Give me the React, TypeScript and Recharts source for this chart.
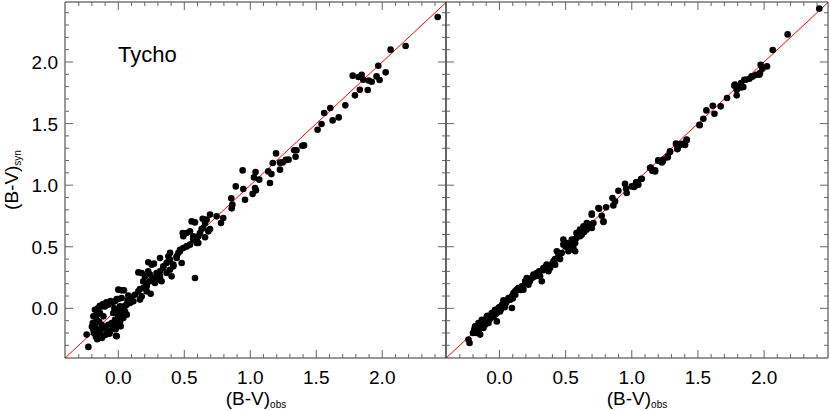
import React from 'react';
import { ScatterChart, Scatter, XAxis, YAxis, ReferenceLine } from 'recharts';

const tychoPairs: [number, number][] = [
  [-0.227, -0.313], [-0.24, -0.213], [-0.189, -0.065], [-0.177, -0.011], [-0.152, 0.003], [-0.126, 0.016],
  [-0.101, 0.016], [-0.076, 0.03], [-0.05, 0.044], [-0.025, 0.057], [0, 0.076], [0.025, 0.084],
  [-0.194, -0.119], [-0.177, -0.146], [-0.164, -0.173], [-0.152, -0.195], [-0.139, -0.213], [-0.113, -0.222],
  [-0.088, -0.206], [-0.063, -0.187], [-0.038, -0.16], [-0.012, -0.133], [0.013, -0.106], [0.038, -0.079],
  [-0.018, -0.222], [-0.068, -0.206], [0.013, -0.141], [0.025, 0.146], [0, 0.152], [-0.012, 0.076],
  [0.076, 0.071], [0.101, 0.092], [0.126, 0.111], [0.152, 0.138], [0.164, 0.157], [0.189, 0.165],
  [0.215, 0.192], [0.235, 0.219], [0.245, 0.119], [0.215, 0.138], [0.177, 0.097], [0.152, 0.292],
  [0.177, 0.287], [0.227, 0.374], [0.253, 0.355], [0.202, 0.26], [0.24, 0.274], [0.265, 0.246],
  [0.29, 0.287], [0.316, 0.301], [0.328, 0.22], [0.341, 0.328], [0.366, 0.368], [0.379, 0.422],
  [0.391, 0.395], [0.417, 0.355], [0.442, 0.422], [0.455, 0.449], [0.467, 0.463], [0.492, 0.49],
  [0.518, 0.504], [0.543, 0.517], [0.568, 0.558], [0.581, 0.246], [0.556, 0.706], [0.594, 0.531],
  [0.606, 0.585], [0.619, 0.612], [0.644, 0.653], [0.657, 0.693], [0.669, 0.72], [0.492, 0.585],
  [0.518, 0.612], [0.543, 0.626], [0.366, 0.287], [0.391, 0.314], [0.404, 0.26], [0.316, 0.26],
  [0.29, 0.233], [0.278, 0.206], [-0.139, -0.038], [-0.113, -0.065], [-0.038, -0.038], [-0.012, -0.011],
  [0.013, 0.016], [0.038, 0.003], [0.063, 0.03], [-0.126, -0.133], [-0.101, -0.16], [-0.076, -0.133],
  [-0.05, -0.119], [-0.025, -0.092], [0, -0.065], [0.025, -0.038], [0.051, -0.025], [-0.164, -0.092],
  [-0.189, -0.173], [0.088, 0.044], [0.114, 0.057],
  [-0.2, -0.15], [-0.185, -0.2], [-0.17, -0.23], [-0.16, -0.25], [-0.125, -0.24], [-0.13, -0.17],
  [-0.145, -0.11], [-0.16, -0.05], [-0.14, 0.02], [-0.115, 0.035], [-0.09, 0.05], [-0.06, 0.06],
  [-0.03, 0.0], [0.0, -0.02], [0.02, -0.06], [0.05, 0.02], [0.07, 0.06], [-0.02, -0.17],
  [-0.093, -0.213], [-0.063, -0.186], [-0.012, -0.227], [0.018, -0.146], [0.064, -0.051],
  [0.043, 0.146], [0.076, 0.103], [0.164, 0.071], [0.215, 0.179], [0.189, 0.219], [0.227, 0.3],
  [0.27, 0.363], [0.303, 0.26], [0.316, 0.409], [0.341, 0.341], [0.379, 0.381], [0.392, 0.45],
  [0.417, 0.341], [0.442, 0.409], [0.467, 0.476], [0.488, 0.612], [0.518, 0.503], [0.48, 0.368],
  [0.568, 0.585], [0.581, 0.698], [0.594, 0.544],
  [0.639, 0.728], [0.695, 0.761], [0.745, 0.747], [0.795, 0.734], [0.778, 0.693], [0.695, 0.644],
  [0.682, 0.625], [0.631, 0.644], [0.657, 0.577], [0.594, 0.571], [0.606, 0.531], [0.856, 0.893],
  [0.864, 0.842], [0.859, 0.812], [0.89, 0.99], [0.96, 0.882], [0.942, 1.12], [0.947, 0.969],
  [1.245, 1.185],
  [2.42, 2.365], [2.177, 2.13], [2.063, 2.1], [2.026, 1.916], [1.97, 1.97], [1.98, 1.854],
  [1.957, 1.883], [1.92, 1.84], [1.897, 1.85], [1.89, 1.773], [1.856, 1.856], [1.844, 1.897],
  [1.82, 1.878], [1.776, 1.889], [1.83, 1.775], [1.793, 1.729], [1.72, 1.648], [1.606, 1.627],
  [1.56, 1.586], [1.67, 1.55], [1.624, 1.526], [1.54, 1.497], [1.51, 1.45], [1.407, 1.323],
  [1.394, 1.32], [1.35, 1.283], [1.333, 1.283], [1.343, 1.231], [1.29, 1.207], [1.27, 1.205],
  [1.195, 1.258], [1.225, 1.183], [1.225, 1.126], [1.17, 1.18], [1.136, 1.112], [1.16, 1.09],
  [1.149, 1.018], [1.04, 1.107], [1.028, 1.063], [1.068, 1.045], [1.036, 0.977], [1.043, 0.958],
  [1.018, 0.929],
];

// (B-V)obs, (B-V)syn pairs
const rightPairs: [number, number][] = [
  [-0.226, -0.281], [-0.234, -0.254], [-0.184, -0.146], [-0.171, -0.173], [-0.159, -0.119], [-0.146, -0.213],
  [-0.133, -0.092], [-0.121, -0.16], [-0.108, -0.133], [-0.095, -0.065], [-0.083, -0.119], [-0.07, -0.079],
  [-0.058, -0.038], [-0.045, -0.065], [-0.033, -0.011], [-0.02, -0.038], [-0.007, 0.003], [0.005, -0.025],
  [0.018, 0.016], [0.03, 0.065], [0.043, 0.03], [0.068, 0.084], [0.093, 0.097], [0.118, 0.138],
  [0.143, 0.165], [0.181, 0.152], [0.194, 0.219], [0.219, 0.192], [0.244, 0.246], [0.257, 0.274],
  [0.282, 0.287], [0.32, 0.22], [0.332, 0.328], [0.357, 0.355], [0.383, 0.328], [0.408, 0.382],
  [0.446, 0.436], [0.458, 0.4], [0.483, 0.517], [0.508, 0.531], [0.534, 0.476], [0.559, 0.544],
  [0.572, 0.463], [0.584, 0.612], [0.609, 0.639], [0.635, 0.666], [0.66, 0.693], [-0.159, -0.187],
  [-0.02, -0.106], [0.056, 0.057], [0.106, 0.125], [0.169, 0.179], [0.206, 0.246], [0.307, 0.26],
  [0.37, 0.301], [0.421, 0.355], [0.471, 0.449], [0.521, 0.463],
  [0.036, 0.044], [0.094, 0.003], [0.698, 0.76], [0.786, 0.701], [0.748, 0.815], [0.559, 0.49],
  [0.483, 0.558], [0.434, 0.463],
  [-0.2, -0.2], [-0.19, -0.17], [-0.175, -0.2], [-0.15, -0.16], [-0.14, -0.12], [-0.12, -0.11],
  [-0.1, -0.1], [-0.09, -0.06], [-0.075, -0.09], [-0.06, -0.07], [-0.04, -0.03], [-0.03, -0.05],
  [-0.01, -0.02], [0.0, 0.01], [0.01, -0.01], [0.02, 0.03], [0.04, 0.01], [0.05, 0.05],
  [0.08, 0.07], [0.1, 0.08], [0.12, 0.11], [0.13, 0.15], [0.16, 0.15], [0.2, 0.2],
  [0.23, 0.22], [0.25, 0.25], [0.27, 0.26], [0.3, 0.3], [0.33, 0.31], [0.35, 0.34],
  [0.4, 0.36], [0.42, 0.4], [0.45, 0.42], [0.5, 0.5], [0.52, 0.49], [0.55, 0.52],
  [0.58, 0.57], [0.64, 0.62], [0.66, 0.64],
  [0.547, 0.558], [0.572, 0.531], [0.584, 0.612], [0.609, 0.585], [0.635, 0.639], [0.66, 0.666],
  [0.685, 0.68], [0.71, 0.693], [0.698, 0.653], [0.622, 0.598], [0.698, 0.769], [0.753, 0.809],
  [0.773, 0.752], [0.786, 0.707], [0.806, 0.82], [0.861, 0.836], [0.854, 0.895], [0.874, 0.868],
  [0.899, 0.955], [0.949, 1.012], [0.962, 0.937], [0.957, 0.971], [1.025, 0.996], [1.038, 1.023],
  [1.05, 1.004], [1.07, 1.05], [1.138, 1.139], [1.158, 1.118], [1.176, 1.112], [1.201, 1.199],
  [1.227, 1.185], [1.239, 1.207], [1.272, 1.226], [1.289, 1.275], [1.345, 1.294], [1.352, 1.329],
  [1.402, 1.329], [1.415, 1.37], [1.511, 1.491],
  [2.417, 2.433], [2.178, 2.224], [2.065, 2.097], [2.022, 1.964], [1.974, 1.978], [1.987, 1.946],
  [1.964, 1.897], [1.939, 1.897], [1.914, 1.883], [1.889, 1.864], [1.863, 1.856], [1.851, 1.856],
  [1.843, 1.797], [1.818, 1.797], [1.793, 1.775], [1.775, 1.808], [1.793, 1.729], [1.826, 1.83],
  [1.72, 1.708], [1.672, 1.64], [1.612, 1.645], [1.625, 1.58], [1.564, 1.607], [1.541, 1.539],
  [1.513, 1.486], [1.415, 1.367], [1.402, 1.326], [1.359, 1.323], [1.344, 1.293], [1.334, 1.337],
  [1.289, 1.269], [1.272, 1.234], [1.234, 1.193], [1.201, 1.201], [1.176, 1.12], [1.143, 1.144],
  [1.156, 1.117], [1.076, 1.052], [1.033, 1.023], [1.018, 0.985], [1.043, 1.004], [1.0, 0.99],
  [1.78, 1.816], [1.806, 1.789], [1.831, 1.794], [1.969, 1.91], [1.906, 1.883], [1.377, 1.336],
];

const axisTicks = [
  -0.3, -0.2, -0.1, 0, 0.1, 0.2, 0.3, 0.4, 0.5, 0.6, 0.7, 0.8, 0.9, 1.0,
  1.1, 1.2, 1.3, 1.4, 1.5, 1.6, 1.7, 1.8, 1.9, 2.0, 2.1, 2.2, 2.3, 2.4,
];
const labelledTicks = [0, 0.5, 1.0, 1.5, 2.0];

const xDomain: [number, number] = [-0.404, 2.483];
const yDomain: [number, number] = [-0.403, 2.487];

const FONT = '"Liberation Sans", Arial, Helvetica, sans-serif';
const AXIS = '#333';
const TICK = '#666';

const isMajor = (v: number) => labelledTicks.some((t) => Math.abs(t - v) < 1e-6);

type Side = 'bottom' | 'top' | 'left' | 'right';

// ticks drawn inward from the frame; labels only on bottom and left
const AxisTick = (props: any) => {
  const { x, y, payload, side, showLabel } = props as { x: number; y: number; payload: any; side: Side; showLabel: boolean };
  const v = payload.value as number;
  const major = isMajor(v);
  const len = major ? 8 : 4;
  let line: React.ReactNode = null;
  let label: React.ReactNode = null;
  if (side === 'bottom') {
    line = <line x1={x} x2={x} y1={y} y2={y - len} stroke={TICK} />;
    if (showLabel && major)
      label = <text x={x} y={y + 26} textAnchor="middle" fontSize={19} fontFamily={FONT} fill="#000">{v.toFixed(1)}</text>;
  } else if (side === 'top') {
    line = <line x1={x} x2={x} y1={y} y2={y + len} stroke={TICK} />;
  } else if (side === 'left') {
    line = <line x1={x} x2={x + len} y1={y} y2={y} stroke={TICK} />;
    if (showLabel && major)
      label = <text x={x - 7} y={y + 7} textAnchor="end" fontSize={19} fontFamily={FONT} fill="#000">{v.toFixed(1)}</text>;
  } else {
    line = <line x1={x} x2={x - len} y1={y} y2={y} stroke={TICK} />;
  }
  return (
    <g>
      {line}
      {label}
    </g>
  );
};

const dot = (p: any) => <circle cx={p.cx} cy={p.cy} r={3.3} fill="#000" />;

type PanelProps = {
  pairs: [number, number][];
  left: number;
  width: number;
  margin: { top: number; right: number; bottom: number; left: number };
  yLabels: boolean;
};

const Panel = ({ pairs, left, width, margin, yLabels }: PanelProps) => {
  const data = pairs.map(([obs, syn]) => ({ obs, syn }));
  const common = {
    type: 'number' as const,
    ticks: axisTicks,
    interval: 0,
    tickSize: 0,
    tickMargin: 0,
    tickLine: false,
    allowDataOverflow: true,
    axisLine: { stroke: AXIS, strokeWidth: 1 },
  };
  return (
    <div style={{ position: 'absolute', left, top: 0 }}>
      <ScatterChart width={width} height={411} margin={margin}>
        <XAxis {...common} xAxisId="b" dataKey="obs" domain={xDomain} height={1}
          tick={(p: any) => <AxisTick {...p} side="bottom" showLabel />} />
        <XAxis {...common} xAxisId="t" orientation="top" dataKey="obs" domain={xDomain} height={1}
          tick={(p: any) => <AxisTick {...p} side="top" showLabel={false} />} />
        <YAxis {...common} yAxisId="l" dataKey="syn" domain={yDomain} width={1}
          tick={(p: any) => <AxisTick {...p} side="left" showLabel={yLabels} />} />
        <YAxis {...common} yAxisId="r" orientation="right" dataKey="syn" domain={yDomain} width={1}
          tick={(p: any) => <AxisTick {...p} side="right" showLabel={false} />} />
        <Scatter xAxisId="t" yAxisId="r" data={data} shape={() => <g />} isAnimationActive={false} />
        <Scatter xAxisId="b" yAxisId="l" data={data} shape={dot} isAnimationActive={false} />
        <ReferenceLine
          xAxisId="b"
          yAxisId="l"
          segment={[{ x: xDomain[0], y: xDomain[0] }, { x: xDomain[1], y: xDomain[1] }]}
          stroke="#ff0000"
          strokeWidth={1}
          ifOverflow="hidden"
        />
      </ScatterChart>
    </div>
  );
};

export default function App() {
  return (
    <div style={{ position: 'absolute', left: 0, top: 0, width: 830, height: 411, background: '#fff' }}>
      <Panel pairs={tychoPairs} left={0} width={450} margin={{ top: 1, right: 3, bottom: 52, left: 64 }} yLabels />
      <Panel pairs={rightPairs} left={440} width={390} margin={{ top: 1, right: 1, bottom: 52, left: 5 }} yLabels={false} />
      <svg width={830} height={411} style={{ position: 'absolute', left: 0, top: 0, pointerEvents: 'none' }}>
        <text x={118} y={62} fontSize={22} fontFamily={FONT} fill="#000">Tycho</text>
        <text x={256} y={405} textAnchor="middle" fontSize={19} fontFamily={FONT} fill="#000">
          (B-V)<tspan fontSize={10} dy={3}>obs</tspan>
        </text>
        <text x={637} y={405} textAnchor="middle" fontSize={19} fontFamily={FONT} fill="#000">
          (B-V)<tspan fontSize={10} dy={3}>obs</tspan>
        </text>
        <text transform="translate(18,180) rotate(-90)" textAnchor="middle" fontSize={19} fontFamily={FONT} fill="#000">
          (B-V)<tspan fontSize={10} dy={3}>syn</tspan>
        </text>
      </svg>
    </div>
  );
}
